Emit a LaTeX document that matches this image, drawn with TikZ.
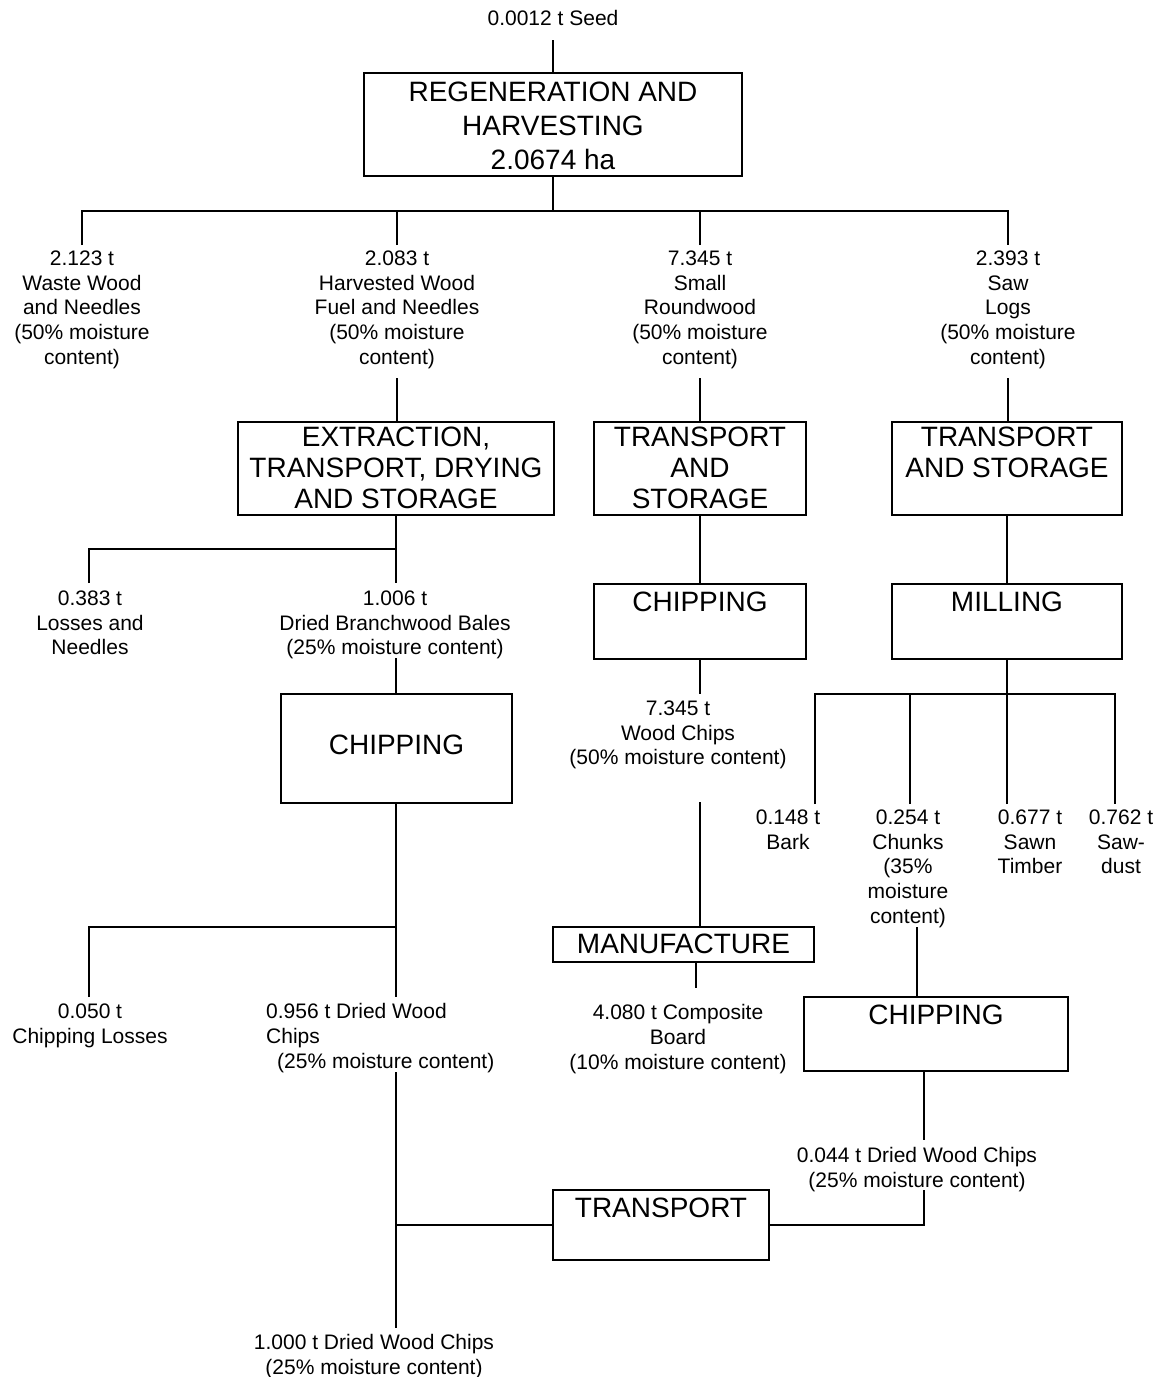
\documentclass[tikz,border=0pt]{standalone}
\usepackage{fontspec}
\setmainfont{Liberation Sans}
\begin{document}
\begin{tikzpicture}[x=1pt,y=-1pt,
  box/.style={draw, line width=1.8pt, inner sep=0pt, outer sep=0pt},
  boxtxt/.style={inner sep=0pt, align=center, anchor=north, font=\fontsize{28}{31}\selectfont},
  lbl/.style={inner sep=0pt, align=center, anchor=north, font=\fontsize{21}{24.7}\selectfont},
  link/.style={line width=1.8pt}]
\useasboundingbox (0,0) rectangle (1165,1377);

% ---- process boxes ----
\node[box, minimum width=378pt, minimum height=103pt] (regen)  at (553,124.5) {};
\node[box, minimum width=316pt, minimum height=93pt]  (extr)   at (396,468.5) {};
\node[box, minimum width=212pt, minimum height=93pt]  (tsM)    at (700,468.5) {};
\node[box, minimum width=230pt, minimum height=93pt]  (tsR)    at (1007,468.5) {};
\node[box, minimum width=212pt, minimum height=75pt]  (chipM)  at (700,621.5) {};
\node[box, minimum width=230pt, minimum height=75pt]  (mill)   at (1007,621.5) {};
\node[box, minimum width=231pt, minimum height=109pt] (chipL)  at (396.5,748.5) {};
\node[box, minimum width=261pt, minimum height=35pt]  (manuf)  at (683.5,944.5) {};
\node[box, minimum width=264pt, minimum height=74pt]  (chipR)  at (936,1034) {};
\node[box, minimum width=216pt, minimum height=70pt]  (transp) at (661,1225) {};

% ---- box titles ----
\node[boxtxt, font=\fontsize{28}{34}\selectfont] (regenT) at (553,82) {REGENERATION AND\\HARVESTING\\2.0674 ha};
\node[boxtxt] (extrT)   at (396,427)  {EXTRACTION,\\TRANSPORT, DRYING\\AND STORAGE};
\node[boxtxt] (tsMT)    at (700,427)  {TRANSPORT\\AND\\STORAGE};
\node[boxtxt] (tsRT)    at (1007,427) {TRANSPORT\\AND STORAGE};
\node[boxtxt] (chipMT)  at (700,592)  {CHIPPING};
\node[boxtxt] (millT)   at (1007,592) {MILLING};
\node[boxtxt] (chipLT)  at (396.5,735) {CHIPPING};
\node[boxtxt] (manufT)  at (683.5,934) {MANUFACTURE};
\node[boxtxt] (chipRT)  at (936,1005) {CHIPPING};
\node[boxtxt] (transpT) at (661,1198) {TRANSPORT};

% ---- flow labels ----
\node[lbl] (seed)  at (553,10.5) {0.0012 t Seed};
\node[lbl] (w1) at (82,250.5)   {2.123 t\\Waste Wood\\and Needles\\(50\% moisture\\content)};
\node[lbl] (w2) at (397,250.5)  {2.083 t\\Harvested Wood\\Fuel and Needles\\(50\% moisture\\content)};
\node[lbl] (w3) at (700,250.5)  {7.345 t\\Small\\Roundwood\\(50\% moisture\\content)};
\node[lbl] (w4) at (1008,250.5) {2.393 t\\Saw\\Logs\\(50\% moisture\\content)};
\node[lbl] (losses) at (90,590.5)  {0.383 t\\Losses and\\Needles};
\node[lbl] (bales)  at (395,590.5) {1.006 t\\Dried Branchwood Bales\\(25\% moisture content)};
\node[lbl] (wchips) at (678,700.5) {7.345 t\\Wood Chips\\(50\% moisture content)};
\node[lbl] (bark)   at (788,809.5)  {0.148 t\\Bark};
\node[lbl] (chunks) at (908,809.5)  {0.254 t\\Chunks\\(35\%\\moisture\\content)};
\node[lbl] (sawn)   at (1030,809.5) {0.677 t\\Sawn\\Timber};
\node[lbl] (sawd)   at (1121,809.5) {0.762 t\\Saw-\\dust};
\node[lbl] (closs)  at (90,1003.5)  {0.050 t\\Chipping Losses};
\node[lbl, align=left, anchor=north west] (dwc956) at (266,1003.5)
  {0.956 t Dried Wood\\Chips\\\hspace*{11pt}(25\% moisture content)};
\node[lbl] (board)  at (678,1004.5) {4.080 t Composite\\Board\\(10\% moisture content)};
\node[lbl] (dwc044) at (917,1147.5) {0.044 t Dried Wood Chips\\(25\% moisture content)};
\node[lbl] (final)  at (374,1334.5) {1.000 t Dried Wood Chips\\(25\% moisture content)};

% ---- connector end points ----
\coordinate (s0)  at (553,40);
\coordinate (j1)  at (553,211);
\coordinate (d1a) at (82,245);
\coordinate (d1b) at (397,245);
\coordinate (d1c) at (700,245);
\coordinate (d1d) at (1008,245);
\coordinate (u2)  at (397,378);
\coordinate (u3)  at (700,378);
\coordinate (u4)  at (1008,378);
\coordinate (j2)  at (396,549);
\coordinate (d2a) at (89,583);
\coordinate (d2b) at (396,583);
\coordinate (u5)  at (396,658);
\coordinate (d3)  at (700,694);
\coordinate (j3)  at (1007,694);
\coordinate (d4a) at (815,804);
\coordinate (d4b) at (910,804);
\coordinate (d4c) at (1007,804);
\coordinate (d4d) at (1115,804);
\coordinate (u6)  at (700,802);
\coordinate (j4)  at (396,927);
\coordinate (d5a) at (89,997);
\coordinate (d5b) at (396,997);
\coordinate (d6)  at (696,988);
\coordinate (u7)  at (917,927);
\coordinate (d8)  at (924,1140);
\coordinate (u8)  at (924,1190);
\coordinate (u9)  at (396,1072);
\coordinate (d9)  at (396,1328);

% ---- connectors ----
\draw[link] (s0) -- (regen.north);
\draw[link] (regen.south) -- (j1);
\draw[link] (d1a) |- (j1) -| (d1d);
\draw[link] (d1b) -- (d1b |- j1);
\draw[link] (d1c) -- (d1c |- j1);

\draw[link] (u2) -- (u2 |- extr.north);
\draw[link] (u3) -- (u3 |- tsM.north);
\draw[link] (u4) -- (u4 |- tsR.north);

\draw[link] (extr.south) -- (j2);
\draw[link] (d2a) |- (j2) -- (d2b);
\draw[link] (u5) -- (u5 |- chipL.north);

\draw[link] (tsM.south) -- (chipM.north);
\draw[link] (tsR.south) -- (mill.north);
\draw[link] (chipM.south) -- (d3);

\draw[link] (mill.south) -- (j3);
\draw[link] (d4a) |- (j3) -| (d4d);
\draw[link] (d4b) -- (d4b |- j3);
\draw[link] (d4c) -- (j3);

\draw[link] (u6) -- (u6 |- manuf.north);

\draw[link] (j4 |- chipL.south) -- (j4);
\draw[link] (d5a) |- (j4) -- (d5b);

\draw[link] (d6 |- manuf.south) -- (d6);
\draw[link] (u7) -- (u7 |- chipR.north);
\draw[link] (d8 |- chipR.south) -- (d8);
\draw[link] (u8) |- (transp.east);

\draw[link] (u9) -- (d9);
\draw[link] (u9 |- transp.west) -- (transp.west);
\end{tikzpicture}
\end{document}
